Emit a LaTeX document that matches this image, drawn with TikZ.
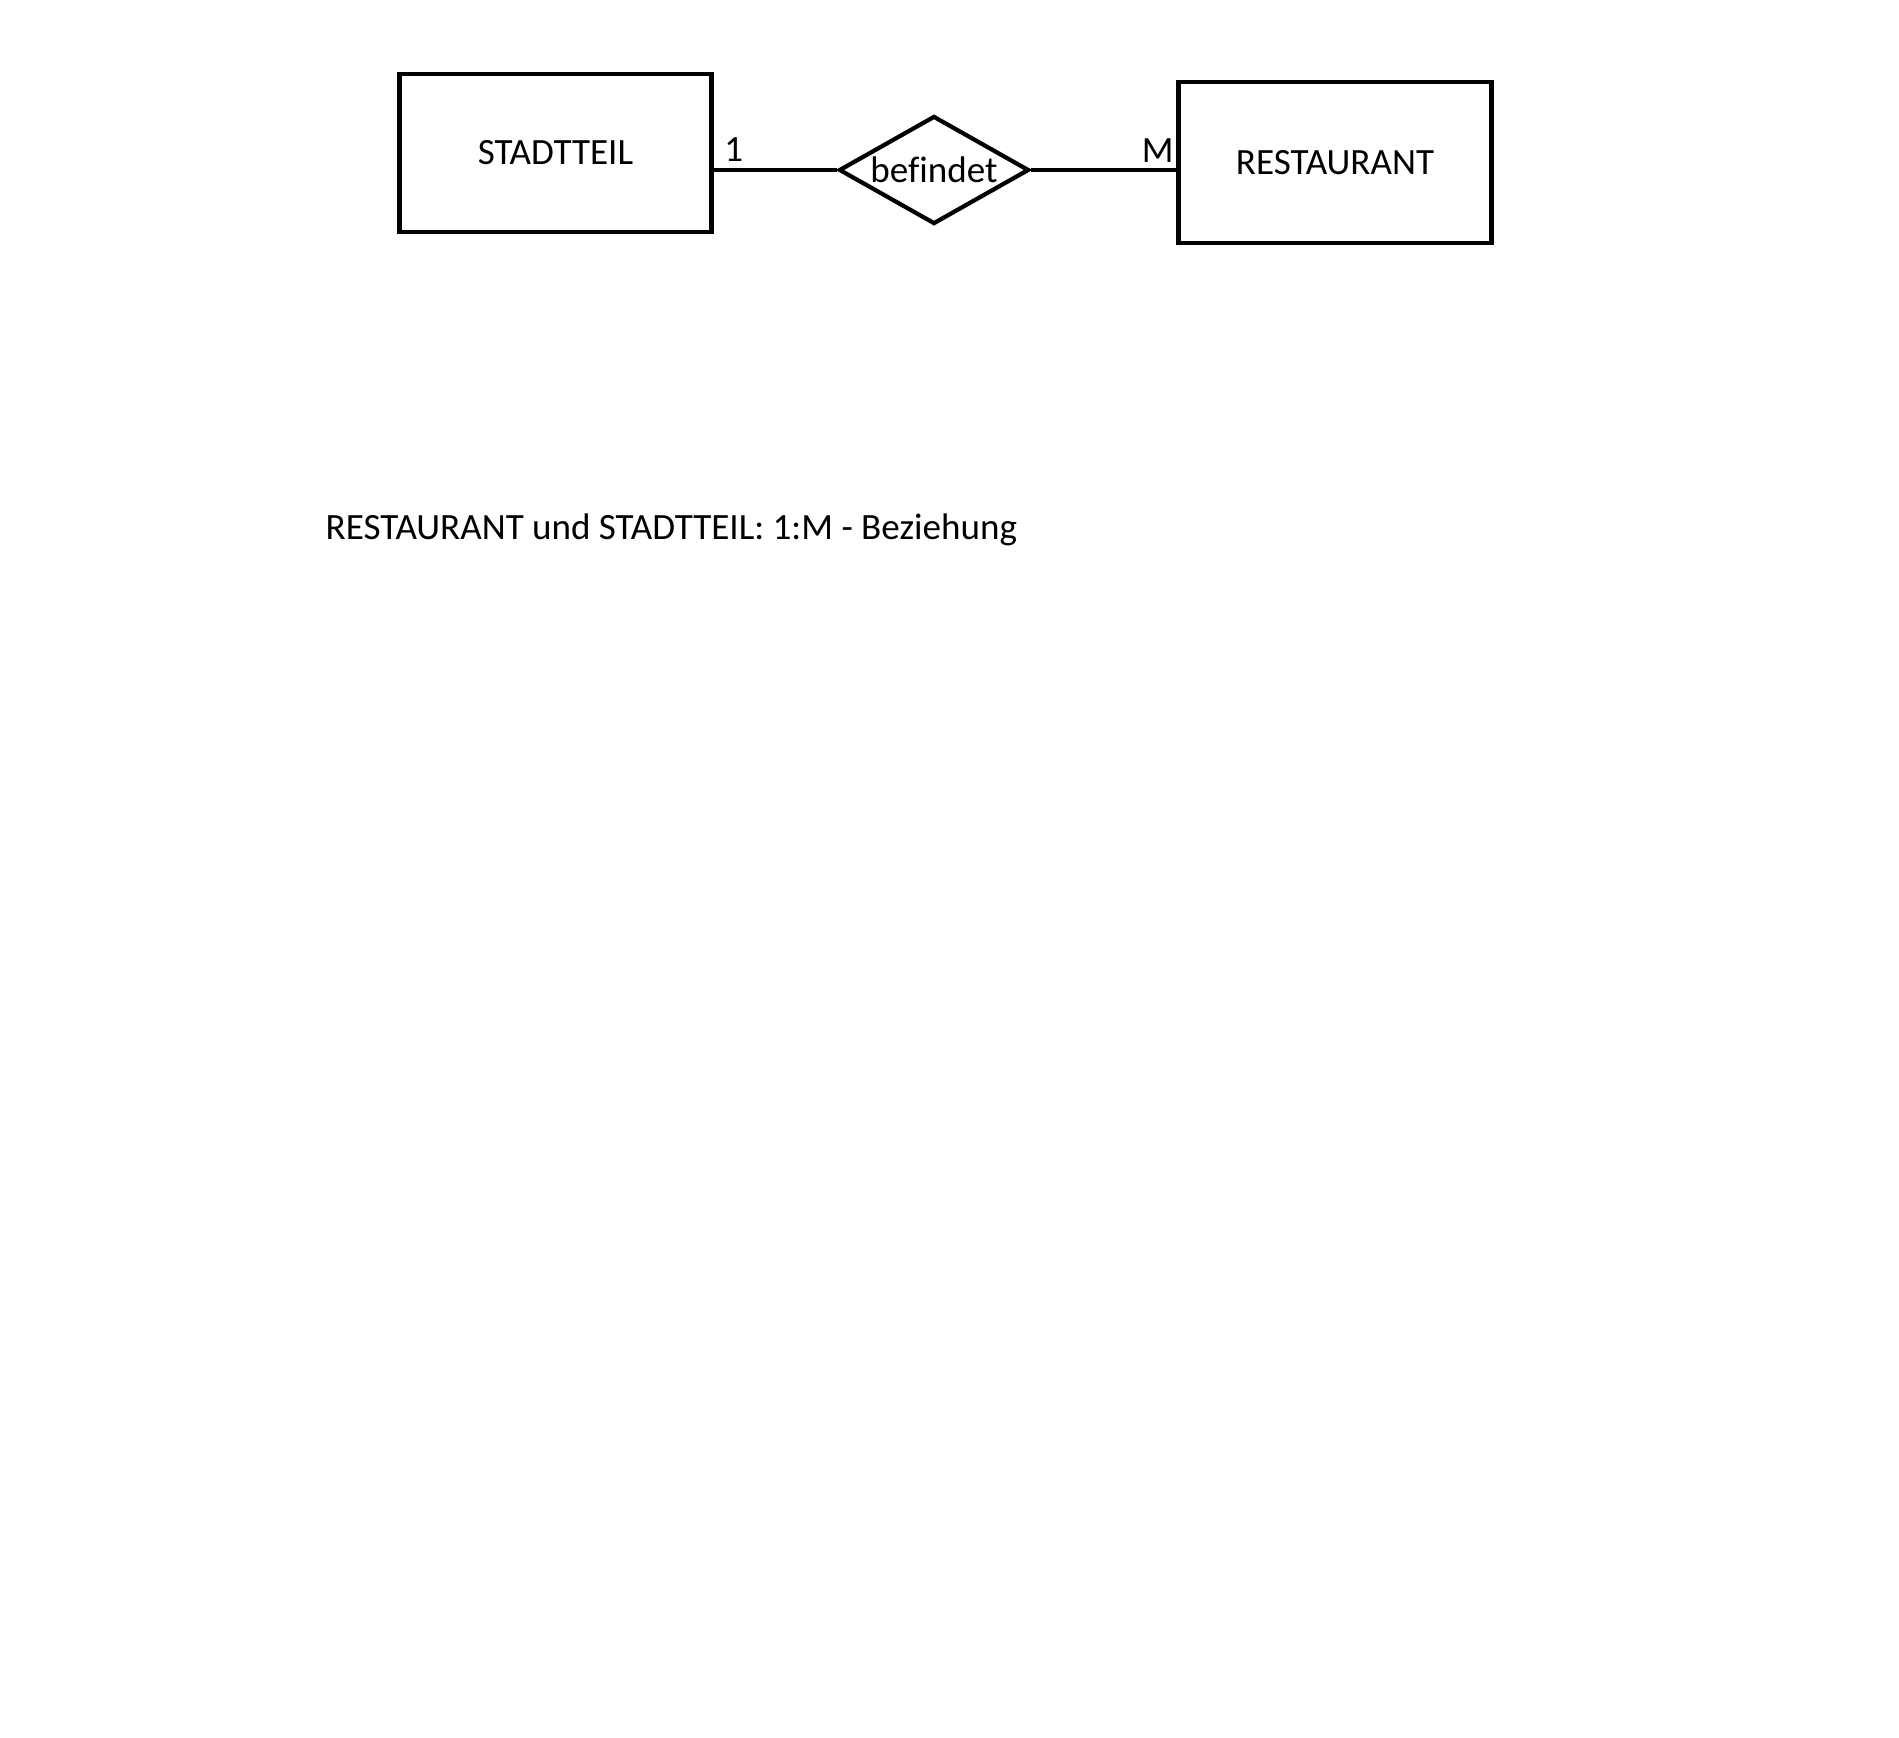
\documentclass[tikz,border=0pt]{standalone}
\usepackage{fontspec}
\setmainfont[Ligatures=NoCommon]{Carlito}
\usetikzlibrary{shapes.geometric,positioning}
\tikzset{
  entity/.style={rectangle,draw,line width=1.2pt,minimum width=3.12cm,minimum height=1.58cm},
  relation/.style={diamond,draw,line width=1.2pt,aspect=1.76,inner sep=0pt,minimum width=1.9cm,minimum height=1.08cm},
  card/.style={inner sep=0pt}
}
\begin{document}
\begin{tikzpicture}[font=\fontsize{10.55}{12.6}\selectfont]
  \useasboundingbox (0,0) rectangle (18.99,-17.38);
  \path (5.555,-1.53) node[entity] (stadt) {STADTTEIL};
  \path (13.35,-1.625) node[entity,minimum width=3.13cm,minimum height=1.61cm] (rest) {RESTAURANT};
  \path (9.34,-1.70) node[relation] (bef) {befindet};
  \draw[line width=1.2pt] (bef.west) -- (bef.west -| stadt.east) coordinate (l1);
  \draw[line width=1.2pt] (bef.east) -- (bef.east -| rest.west) coordinate (l2);
  \path (l1) ++(0.1,0.08) node[card,anchor=south west] (one) {1};
  \path (l2) ++(-0.02,0.07) node[card,anchor=south east] (many) {M};
  \path (3.25,-5.30) node[card,anchor=west] (caption) {RESTAURANT und STADTTEIL: 1:M - Beziehung};
\end{tikzpicture}
\end{document}
